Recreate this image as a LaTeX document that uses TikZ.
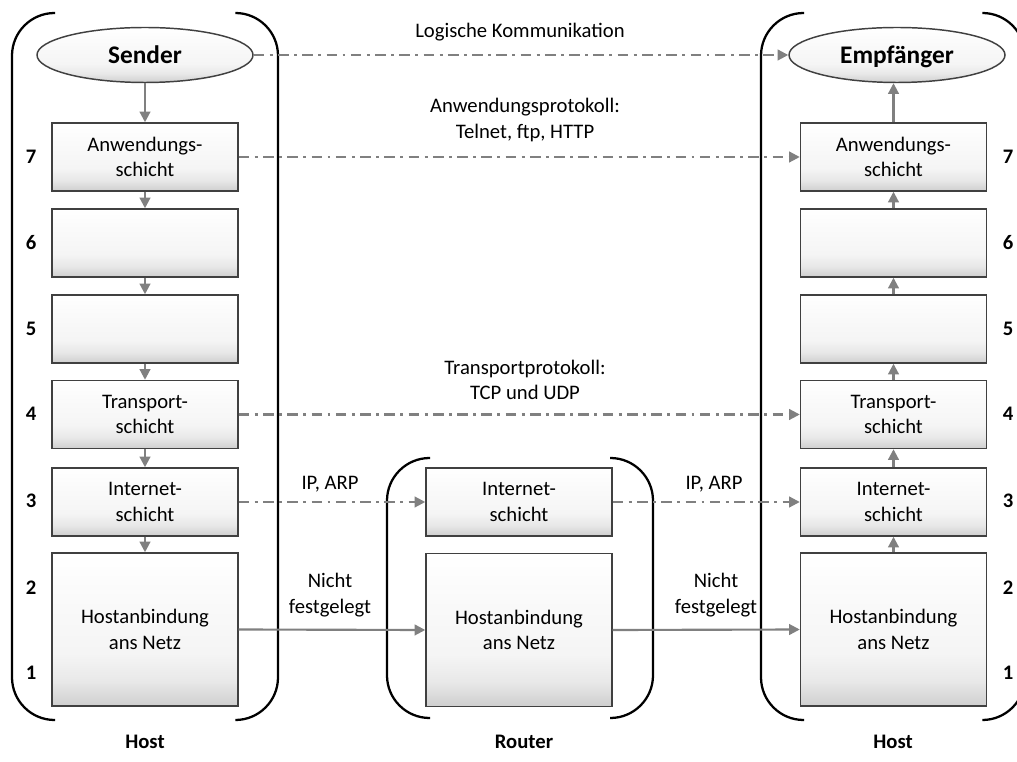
\documentclass[tikz,border=0pt]{standalone}
\usepackage{fontspec}
\setmainfont{Carlito}
\usepackage{tikz}
\usetikzlibrary{arrows.meta,shapes.geometric}
\definecolor{ArrowGray}{HTML}{808080}
\definecolor{BoxLine}{HTML}{404040}
\pgfdeclareverticalshading{layershade}{100bp}{color(0bp)=(black!19); color(25bp)=(black!19); color(33bp)=(black!9); color(42bp)=(black!4); color(60bp)=(black!2); color(75bp)=(white); color(100bp)=(white)}
\tikzset{
    layer/.style={draw=BoxLine, line width=1.1pt, shading=layershade, minimum width=139.5pt, minimum height=51pt, inner sep=0pt, align=center, font=\fontsize{15.5}{19}\selectfont},
    hostlayer/.style={layer, minimum height=114.75pt},
    peer/.style={ellipse, draw=BoxLine, line width=1.1pt, shading=layershade, minimum width=162pt, minimum height=41.25pt, inner sep=0pt, text height=13pt, text depth=0pt, font=\fontsize{19}{22}\selectfont\bfseries},
    lbl/.style={align=center, font=\fontsize{15.5}{19}\selectfont},
    num/.style={font=\fontsize{15.5}{19}\selectfont\bfseries},
    flow/.style={draw=ArrowGray, line width=1.6pt, -{Triangle[length=8pt,width=8pt]}},
    proto/.style={flow, dash pattern=on 8pt off 4pt on 2.2pt off 4pt},
    brace/.style={draw=black, line width=1.7pt, rounded corners=32pt}
}

\begin{document}
\begin{tikzpicture}[x=0.75pt,y=-0.75pt]
    \clip (0,0) rectangle (1017,762);
    \draw[brace] (55,13) -- (12,13) -- (12,720) -- (55,720);
    \draw[brace] (237,13) -- (278,13) -- (278,720) -- (237,720);
    \draw[brace] (430,458) -- (387,458) -- (387,718) -- (430,718);
    \draw[brace] (610,458) -- (653,458) -- (653,718) -- (610,718);
    \draw[brace] (804,13) -- (761,13) -- (761,720) -- (804,720);
    \draw[brace] (983,13) -- (1025,13) -- (1025,720) -- (983,720);

    \node[peer] (sender) at (145,55) {Sender};
    \node[layer] (s7) at (145,157) {Anwendungs-\\schicht};
    \node[layer] (s6) at (145,243) {};
    \node[layer] (s5) at (145,329) {};
    \node[layer] (s4) at (145,414.5) {Transport-\\schicht};
    \node[layer] (s3) at (145,502) {Internet-\\schicht};
    \node[hostlayer] (s2) at (145,629.5) {Hostanbindung\\ans Netz};

    \node[layer] (r3) at (519,502) {Internet-\\schicht};
    \node[hostlayer] (r2) at (519,630) {Hostanbindung\\ans Netz};

    \node[peer] (empf) at (897,55) {Empfänger};
    \node[layer] (e7) at (893.5,157) {Anwendungs-\\schicht};
    \node[layer] (e6) at (893.5,243) {};
    \node[layer] (e5) at (893.5,329) {};
    \node[layer] (e4) at (893.5,414.5) {Transport-\\schicht};
    \node[layer] (e3) at (893.5,502) {Internet-\\schicht};
    \node[hostlayer] (e2) at (893.5,629.5) {Hostanbindung\\ans Netz};

    \node[num] (nl7) at (31,157) {7};
    \node[num] (nl6) at (31,243) {6};
    \node[num] (nl5) at (31,329) {5};
    \node[num] (nl4) at (31,414) {4};
    \node[num] (nl3) at (31,501) {3};
    \node[num] (nl2) at (31,588) {2};
    \node[num] (nl1) at (31,673) {1};
    \node[num] (nr7) at (1008,157) {7};
    \node[num] (nr6) at (1008,243) {6};
    \node[num] (nr5) at (1008,329) {5};
    \node[num] (nr4) at (1008,414) {4};
    \node[num] (nr3) at (1008,501) {3};
    \node[num] (nr2) at (1008,588) {2};
    \node[num] (nr1) at (1008,673) {1};

    \node[num] (hostl) at (145,742) {Host};
    \node[num] (router) at (524,742) {Router};
    \node[num] (hostr) at (893,742) {Host};

    \node[lbl] (logk) at (520,32) {Logische Kommunikation};
    \node[lbl] (anwp) at (525,120) {Anwendungsprotokoll:\\Telnet, ftp, HTTP};
    \node[lbl] (trap) at (525,380) {Transportprotokoll:\\TCP und UDP};
    \node[lbl] (ipl) at (330,484) {IP, ARP};
    \node[lbl] (ipr) at (714,484) {IP, ARP};
    \node[lbl] (nfl) at (330,595) {Nicht\\festgelegt};
    \node[lbl] (nfr) at (716,595) {Nicht\\festgelegt};

    \draw[flow] (sender) -- (s7);
    \draw[flow] (s7) -- (s6);
    \draw[flow] (s6) -- (s5);
    \draw[flow] (s5) -- (s4);
    \draw[flow] (s4) -- (s3);
    \draw[flow] (s3) -- (s2);
    \draw[flow] (e2) -- (e3);
    \draw[flow] (e3) -- (e4);
    \draw[flow] (e4) -- (e5);
    \draw[flow] (e5) -- (e6);
    \draw[flow] (e6) -- (e7);
    \draw[flow] (e7.north) -- (e7.north |- empf.south);

    \draw[proto] (sender.east) -- (empf.west);
    \draw[proto] (s7.east) -- (e7.west);
    \draw[proto] (s4.east) -- (e4.west);
    \draw[proto] (s3.east) -- (r3.west);
    \draw[proto] (r3.east) -- (e3.west);
    \draw[flow] (s2.east) -- (r2.west);
    \draw[flow] (r2.east) -- (e2.west);
\end{tikzpicture}
\end{document}
